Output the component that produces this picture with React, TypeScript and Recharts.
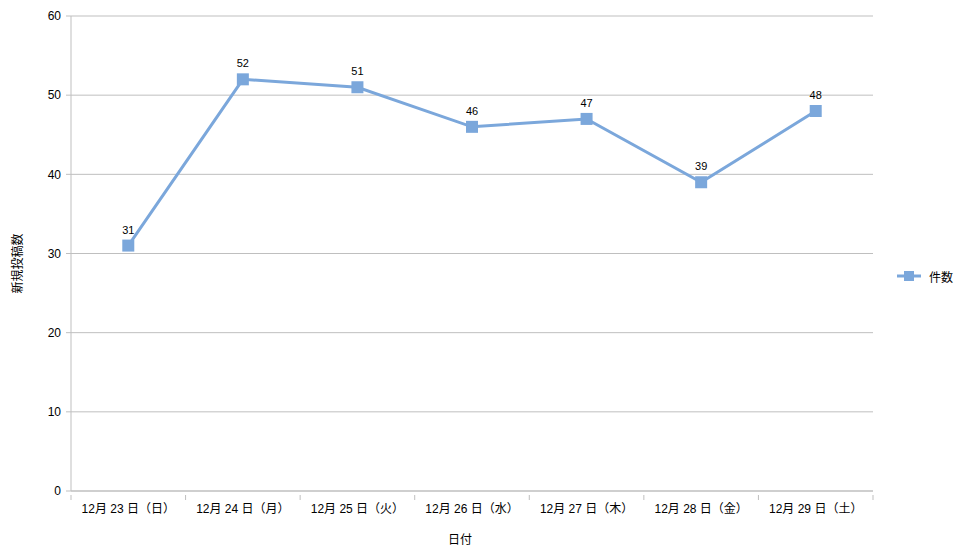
import React from 'react';
import {
  LineChart,
  Line,
  XAxis,
  YAxis,
  CartesianGrid,
  Legend,
  LabelList,
} from 'recharts';

// 日付ごとの新規投稿数
const days = [
  '12月 23 日（日）',
  '12月 24 日（月）',
  '12月 25 日（火）',
  '12月 26 日（水）',
  '12月 27 日（木）',
  '12月 28 日（金）',
  '12月 29 日（土）',
];
const counts = [31, 52, 51, 46, 47, 39, 48];
const yTicks = [0, 10, 20, 30, 40, 50, 60];

const data = days.map((day, i) => ({ day, count: counts[i] }));

const LINE_COLOR = '#7ba7db';
const GRID_COLOR = '#bfbfbf';
const FONT = '"Liberation Sans", "Noto Sans CJK JP", sans-serif';

// category labels centred, tick marks on the band edges
const DayTick = (props: any) => {
  const { x, y, payload, index } = props;
  const half = payload.offset || 0;
  return (
    <g>
      <line x1={x - half} x2={x - half} y1={y - 4} y2={y + 1} stroke={GRID_COLOR} />
      {index === days.length - 1 && (
        <line x1={x + half} x2={x + half} y1={y - 4} y2={y + 1} stroke={GRID_COLOR} />
      )}
      <text x={x} y={y + 14} textAnchor="middle" fontSize={12} fill="#000" fontFamily={FONT}>
        {payload.value}
      </text>
    </g>
  );
};

const SquareDot = (props: any) => {
  const { cx, cy, index } = props;
  if (cx == null || cy == null) return null;
  return <rect key={index} x={cx - 6} y={cy - 6} width={12} height={12} fill={LINE_COLOR} />;
};

const LegendBox = () => (
  <div style={{ display: 'flex', alignItems: 'center', paddingLeft: 24, fontFamily: FONT, fontSize: 12 }}>
    <svg width={24} height={12}>
      <line x1={0} x2={24} y1={6} y2={6} stroke={LINE_COLOR} strokeWidth={3} />
      <rect x={7} y={1} width={10} height={10} fill={LINE_COLOR} />
    </svg>
    <span style={{ marginLeft: 8, color: '#000' }}>件数</span>
  </div>
);

export default function App() {
  return (
    <div style={{ position: 'absolute', left: 0, top: 0, background: '#fff' }}>
      <LineChart
        width={966}
        height={552}
        data={data}
        margin={{ top: 16, right: 10, bottom: 0, left: 0 }}
        style={{ fontFamily: FONT }}
      >
        <CartesianGrid horizontal vertical={false} stroke={GRID_COLOR} />
        <XAxis
          dataKey="day"
          scale="band"
          height={61}
          tickLine={false}
          axisLine={{ stroke: GRID_COLOR }}
          tick={<DayTick />}
          interval={0}
          label={{ value: '日付', position: 'insideBottom', offset: 8, fontSize: 12, fill: '#000', dx: -12 }}
        />
        <YAxis
          width={71}
          domain={[0, 60]}
          ticks={yTicks}
          interval={0}
          tickSize={5}
          tickMargin={5}
          tickLine={{ stroke: GRID_COLOR }}
          axisLine={{ stroke: GRID_COLOR }}
          tick={{ fontSize: 12, fill: '#000' }}
          label={{ value: '新規投稿数', angle: -90, position: 'insideLeft', offset: 18, fontSize: 12, fill: '#000', textAnchor: 'middle', dy: 10 }}
        />
        <Legend
          layout="vertical"
          align="right"
          verticalAlign="middle"
          width={83}
          content={<LegendBox />}
        />
        <Line
          type="linear"
          dataKey="count"
          name="件数"
          stroke={LINE_COLOR}
          strokeWidth={3}
          dot={<SquareDot />}
          activeDot={false}
          isAnimationActive={false}
        >
          <LabelList dataKey="count" position="top" offset={12} fontSize={11} fill="#000" />
        </Line>
      </LineChart>
    </div>
  );
}
